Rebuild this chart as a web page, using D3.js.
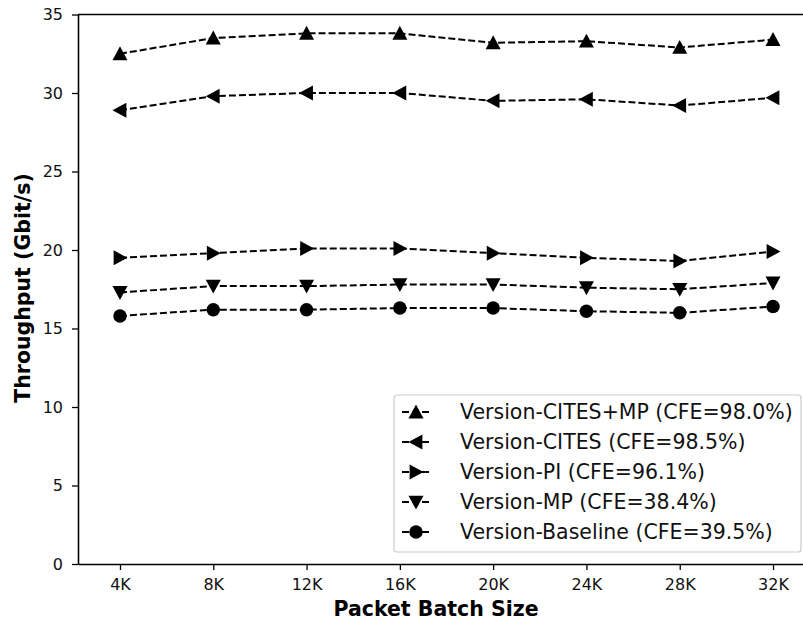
<!DOCTYPE html>
<html>
<head>
<meta charset="utf-8">
<script src="https://cdn.jsdelivr.net/npm/d3@7"></script>
<style>
  body { margin: 0; background: #fff; }
  svg { display: block; font-family: "DejaVu Sans", sans-serif; }
</style>
</head>
<body>
<svg id="chart" width="803" height="626"></svg>
<script>
const categories = ["4K", "8K", "12K", "16K", "20K", "24K", "28K", "32K"];
const seriesNames = [
  "Version-CITES+MP (CFE=98.0%)",
  "Version-CITES (CFE=98.5%)",
  "Version-PI (CFE=96.1%)",
  "Version-MP (CFE=38.4%)",
  "Version-Baseline (CFE=39.5%)"
];
const citesMp  = [32.5, 33.5, 33.8, 33.8, 33.2, 33.3, 32.9, 33.4];
const cites    = [28.9, 29.8, 30.0, 30.0, 29.5, 29.6, 29.2, 29.7];
const pi       = [19.5, 19.8, 20.1, 20.1, 19.8, 19.5, 19.3, 19.9];
const mp       = [17.3, 17.7, 17.7, 17.8, 17.8, 17.6, 17.5, 17.9];
const baseline = [15.8, 16.2, 16.2, 16.3, 16.3, 16.1, 16.0, 16.4];
const yTicks = [0, 5, 10, 15, 20, 25, 30, 35];
const markers = ["up", "left", "right", "down", "circle"];
const seriesValues = [citesMp, cites, pi, mp, baseline];

const svg = d3.select("#chart");
const mLeft = 78, mTop = 14.5, mBottom = 564, mRight = 815;

const x = d3.scaleLinear().domain([-0.45, 7.45]).range([mLeft, mRight]);
const y = d3.scaleLinear().domain([0, 35]).range([mBottom, mTop]);

function markerPath(type, s) {
  const h = s / 2;
  switch (type) {
    case "up": return `M0,${-h}L${h},${h*0.85}L${-h},${h*0.85}Z`;
    case "down": return `M0,${h}L${h},${-h*0.85}L${-h},${-h*0.85}Z`;
    case "left": return `M${-h},0L${h*0.85},${-h}L${h*0.85},${h}Z`;
    case "right": return `M${h},0L${-h*0.85},${-h}L${-h*0.85},${h}Z`;
    default: return d3.symbol().type(d3.symbolCircle).size(Math.PI * (s*0.45) * (s*0.45))();
  }
}

// axes
const xAxis = d3.axisBottom(x).tickValues(d3.range(categories.length))
  .tickFormat(i => categories[i]).tickSize(6).tickPadding(9).tickSizeOuter(0);
const gx = svg.append("g").attr("transform", `translate(0,${mBottom})`).call(xAxis);
gx.select(".domain").attr("stroke-width", 1.6);
gx.selectAll(".tick line").attr("stroke-width", 1.3);
gx.selectAll("text").attr("font-size", 16).attr("font-family", "DejaVu Sans").attr("fill", "#111");

const yAxis = d3.axisLeft(y).tickValues(yTicks).tickSize(6).tickPadding(9).tickSizeOuter(0);
const gy = svg.append("g").attr("transform", `translate(${mLeft},0)`).call(yAxis);
gy.select(".domain").attr("stroke-width", 1.6);
gy.selectAll(".tick line").attr("stroke-width", 1.3);
gy.selectAll("text").attr("font-size", 16).attr("font-family", "DejaVu Sans").attr("fill", "#111");

// top spine
svg.append("line").attr("x1", mLeft).attr("x2", mRight).attr("y1", mTop).attr("y2", mTop)
  .attr("stroke", "#000").attr("stroke-width", 1.6);

// series
const line = d3.line().x((d, i) => x(i)).y(d => y(d));
seriesValues.forEach((vals, k) => {
  svg.append("path").datum(vals).attr("d", line)
    .attr("fill", "none").attr("stroke", "#000").attr("stroke-width", 2)
    .attr("stroke-dasharray", "7,3");
  svg.append("g").selectAll("path").data(vals).join("path")
    .attr("transform", (d, i) => `translate(${x(i)},${y(d)})`)
    .attr("d", markerPath(markers[k], 15))
    .attr("fill", "#000");
});

// axis labels
svg.append("text").attr("x", 436).attr("y", 610).attr("text-anchor", "middle")
  .attr("dominant-baseline", "middle")
  .attr("font-size", 20.5).attr("font-weight", "bold").text("Packet Batch Size");
svg.append("text").attr("transform", "translate(24,288) rotate(-90)")
  .attr("text-anchor", "middle").attr("dominant-baseline", "middle")
  .attr("font-size", 20.5).attr("font-weight", "bold").text("Throughput (Gbit/s)");

// legend
const lg = svg.append("g");
lg.append("rect").attr("x", 394).attr("y", 395).attr("width", 407).attr("height", 157)
  .attr("rx", 3).attr("fill", "#fff").attr("stroke", "#ccc").attr("stroke-width", 1.2);
seriesNames.forEach((name, k) => {
  const cy = 412 + k * 30;
  lg.append("line").attr("x1", 402).attr("x2", 431).attr("y1", cy).attr("y2", cy)
    .attr("stroke", "#000").attr("stroke-width", 2).attr("stroke-dasharray", "7,3");
  lg.append("path").attr("transform", `translate(416,${cy})`)
    .attr("d", markerPath(markers[k], 15)).attr("fill", "#000");
  lg.append("text").attr("x", 460).attr("y", cy).attr("dominant-baseline", "central")
    .attr("font-size", 20.5).attr("fill", "#111").text(name);
});
</script>
</body>
</html>
